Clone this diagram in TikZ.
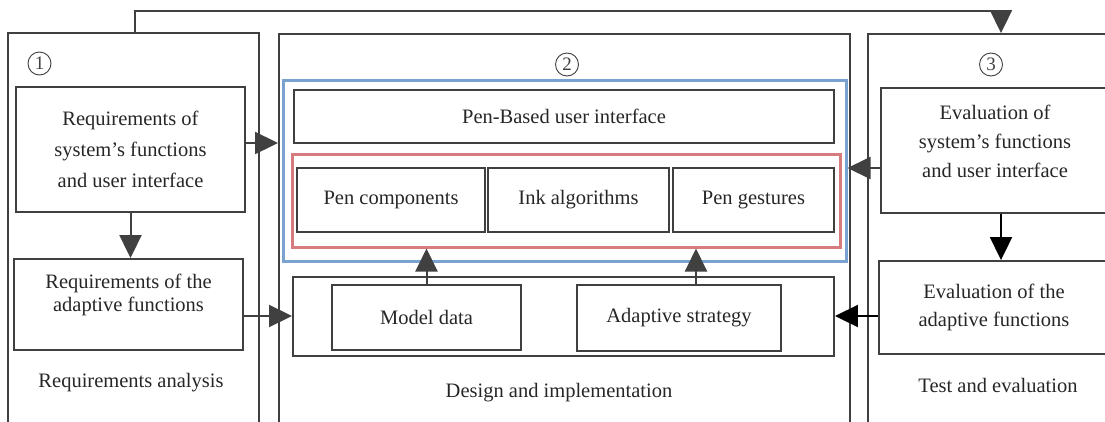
\documentclass[tikz,border=0pt]{standalone}
\usepackage{fontspec}
\setmainfont{Liberation Serif}
\usetikzlibrary{arrows.meta}
\definecolor{linegray}{RGB}{64,64,64}
\definecolor{frameblue}{RGB}{122,162,208}
\definecolor{framered}{RGB}{214,124,126}

\begin{document}
\begin{tikzpicture}[x=1pt,y=-1pt,
  every node/.style={text=black!85, font=\fontsize{20.5}{31}\selectfont},
  box/.style={draw=linegray, line width=1.9pt, align=center, inner sep=0pt},
  panel/.style={draw=linegray, line width=1.9pt, inner sep=0pt},
  num/.style={circle, draw=linegray, line width=0.9pt, text=linegray, inner sep=0pt, minimum size=23pt, font=\fontsize{19}{19}\selectfont},
  arr/.style={-{Triangle[length=23pt,width=22pt]}, line width=2pt, draw=linegray}]
\useasboundingbox (0,0) rectangle (1105,421);
\clip (0,0) rectangle (1105,421);
% draw the three phases
\node[panel, minimum width=251pt, minimum height=407pt] (pA) at (133.5,236.5) {};
\node[panel, minimum width=571pt, minimum height=406pt] (pB) at (564.5,237) {};
\node[panel, minimum width=262pt, minimum height=406pt] (pC) at (999,237) {};
\node[num] (nA) at (39.5,63.5) {1};
\node[num] (nB) at (567,64.5) {2};
\node[num] (nC) at (991,64.5) {3};
\node (tA) at (131,383) {Requirements analysis};
\node (tB) at (559,393) {Design and implementation};
\node (tC) at (998,385) {Test and evaluation};
% draw requirements
\node[box, minimum width=229pt, minimum height=125pt] (rqSys) at (130.5,149.5) {Requirements of\\system’s functions\\and user interface};
\node[box, minimum width=229pt, minimum height=91pt, font=\fontsize{20.5}{23}\selectfont] (rqAda) at (128.5,304.5) {Requirements of the\\adaptive functions\\ \mbox{}};
% draw design
\node[draw=frameblue, line width=3pt, minimum width=563pt, minimum height=181pt] (blueFr) at (564.5,170.5) {};
\node[box, minimum width=540pt, minimum height=53pt] (penUI) at (564,116.5) {Pen-Based user interface};
\node[draw=framered, line width=3pt, minimum width=548pt, minimum height=93pt] (redFr) at (566,200.5) {};
\node[box, minimum width=188pt, minimum height=64pt] (penComp) at (391,200) {Pen components};
\node[box, minimum width=181pt, minimum height=64pt] (inkAlg) at (578.5,200) {Ink algorithms};
\node[box, minimum width=161pt, minimum height=64pt] (penGes) at (753.5,200) {Pen gestures};
\node[box, minimum width=541pt, minimum height=79pt] (lowFr) at (563.5,316.5) {};
\node[box, minimum width=189pt, minimum height=65pt] (modData) at (426.5,317.5) {Model data};
\node[box, minimum width=204pt, minimum height=66pt] (adaStr) at (679,318) {Adaptive strategy};
% draw evaluation
\node[box, minimum width=228pt, minimum height=125pt, font=\fontsize{20.5}{29}\selectfont] (evSys) at (995,150.5) {Evaluation of\\system’s functions\\and user interface\\[-10pt]\mbox{}};
\node[box, minimum width=230pt, minimum height=93pt, font=\fontsize{20.5}{28}\selectfont] (evAda) at (994,307.5) {Evaluation of the\\adaptive functions};
% draw arrows
\draw[arr] (rqSys.south) -- (rqSys.south |- rqAda.north);
\draw[arr] ([yshift=6.5pt]rqSys.east) -- ([yshift=6.5pt]rqSys.east -| pB.west);
\draw[arr] ([yshift=-11.5pt]rqAda.east) -- ([yshift=-11.5pt]rqAda.east -| lowFr.west);
\draw[arr] (modData.north) -- (modData.north |- redFr.south);
\draw[arr] ([xshift=17pt]adaStr.north) -- ([xshift=17pt]adaStr.north |- redFr.south);
\draw[arr] ([yshift=-17.5pt]evSys.west) -- ([yshift=-17.5pt]evSys.west -| blueFr.east);
\draw[arr, draw=black] ([yshift=-8.5pt]evAda.west) -- ([yshift=-8.5pt]evAda.west -| lowFr.east);
\draw[arr, draw=black] ([xshift=6pt]evSys.south) -- ([xshift=6pt]evSys.south |- evAda.north);
% draw feedback
\coordinate (fbTurn) at (1001,11);
\draw[arr] ([xshift=128pt]pA.north west) |- (fbTurn) -- (fbTurn |- pC.north);
\end{tikzpicture}
\end{document}
